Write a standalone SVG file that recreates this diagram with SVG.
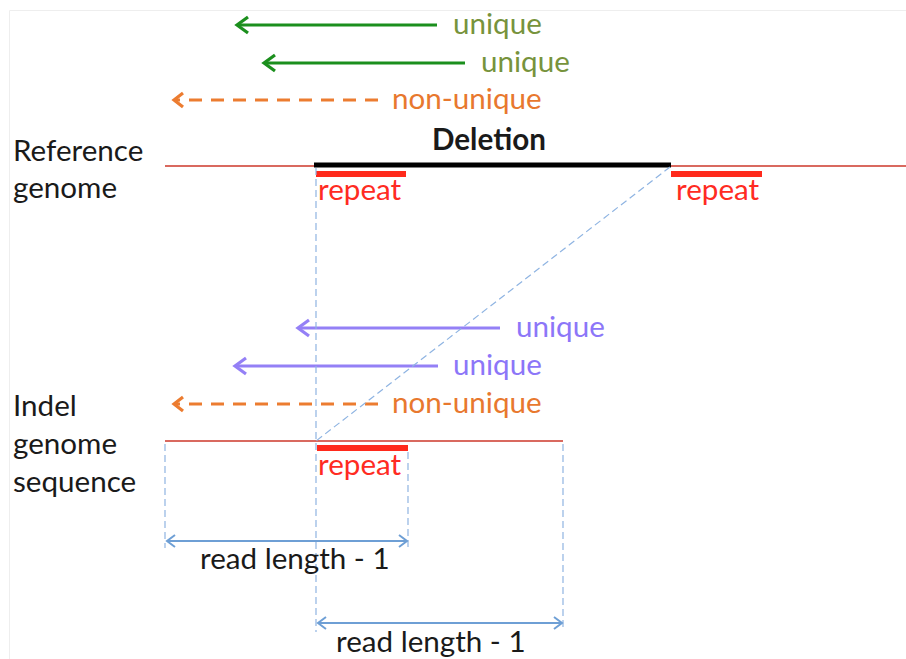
<svg xmlns="http://www.w3.org/2000/svg" width="906" height="659" viewBox="0 0 906 659">
  <defs>
    <style>
      text { font-family: Lato, "Open Sans", "Liberation Sans", sans-serif; font-size: 29.6px; }
      .lbl { fill: #1a1a1a; }
      .bold { font-weight: bold; }
      .green-txt { fill: #77933c; }
      .orange-txt { fill: #e8782e; }
      .purple-txt { fill: #8c76f8; }
      .red-txt { fill: #ff2b22; }
      .green { stroke: #1b8f1d; stroke-width: 3; fill: none; }
      .orange { stroke: #ec7c30; stroke-width: 3.2; fill: none; stroke-dasharray: 13 9; }
      .purple { stroke: #9480f6; stroke-width: 3; fill: none; }
      .seq { stroke: #d9695f; stroke-width: 2.2; fill: none; }
      .repeat { stroke: #ff2a1c; stroke-width: 6; fill: none; }
      .guide { stroke: #8fb4e2; stroke-width: 1.2; fill: none; stroke-dasharray: 7 4; }
      .dim { stroke: #6e9fd5; stroke-width: 2; fill: none; }
    </style>
    <marker id="head-green" markerUnits="userSpaceOnUse" viewBox="-14 -10 16 20" markerWidth="16" markerHeight="20" refX="0" refY="0" orient="auto" overflow="visible">
      <path d="M-11,-8 L0,0 L-11,8" fill="none" stroke="#1b8f1d" stroke-width="3.2"/>
    </marker>
    <marker id="head-orange" markerUnits="userSpaceOnUse" viewBox="-14 -10 16 20" markerWidth="16" markerHeight="20" refX="0" refY="0" orient="auto" overflow="visible">
      <path d="M-9,-7 L0,0 L-9,7" fill="none" stroke="#ec7c30" stroke-width="3.2"/>
    </marker>
    <marker id="head-purple" markerUnits="userSpaceOnUse" viewBox="-14 -10 16 20" markerWidth="16" markerHeight="20" refX="0" refY="0" orient="auto" overflow="visible">
      <path d="M-11,-8 L0,0 L-11,8" fill="none" stroke="#9480f6" stroke-width="3.2"/>
    </marker>
    <marker id="head-dim" markerUnits="userSpaceOnUse" viewBox="-10 -8 12 16" markerWidth="12" markerHeight="16" refX="0" refY="0" orient="auto-start-reverse" overflow="visible">
      <path d="M-8,-6 L0,0 L-8,6" fill="none" stroke="#6e9fd5" stroke-width="2"/>
    </marker>
  </defs>

  <rect width="906" height="659" fill="#ffffff"/>
  <!-- faint frame -->
  <path d="M9.5,659 V10.5 H906" fill="none" stroke="#eeeeee" stroke-width="1"/>

  <!-- row labels -->
  <g id="label-reference">
    <text class="lbl" x="13" y="161">Reference</text>
    <text class="lbl" x="13" y="198">genome</text>
  </g>
  <g id="label-indel">
    <text class="lbl" x="13" y="416">Indel</text>
    <text class="lbl" x="13" y="454">genome</text>
    <text class="lbl" x="13" y="492">sequence</text>
  </g>

  <!-- reference genome -->
  <g id="reference-genome">
    <line class="seq" x1="165" y1="166" x2="906" y2="166"/>
    <line x1="314" y1="165" x2="671" y2="165" stroke="#000" stroke-width="5"/>
    <text class="lbl bold" x="432" y="150">Deletion</text>
    <line class="repeat" x1="316" y1="174" x2="406" y2="174"/>
    <text class="red-txt" x="318" y="200">repeat</text>
    <line class="repeat" x1="671" y1="174" x2="762" y2="174"/>
    <text class="red-txt" x="676" y="200">repeat</text>
  </g>

  <!-- indel genome sequence -->
  <g id="indel-genome">
    <line class="seq" x1="165" y1="441" x2="563" y2="441"/>
    <line class="repeat" x1="317" y1="448" x2="408" y2="448"/>
    <text class="red-txt" x="318" y="475">repeat</text>
  </g>

  <!-- reads against the reference -->
  <g id="ref-read-1">
    <line class="green" x1="437" y1="25" x2="237" y2="25" marker-end="url(#head-green)"/>
    <text class="green-txt" x="453" y="34">unique</text>
  </g>
  <g id="ref-read-2">
    <line class="green" x1="465" y1="63" x2="264" y2="63" marker-end="url(#head-green)"/>
    <text class="green-txt" x="481" y="72">unique</text>
  </g>
  <g id="ref-read-3">
    <line class="orange" x1="378" y1="100" x2="174" y2="100" marker-end="url(#head-orange)"/>
    <text class="orange-txt" x="392" y="109">non-unique</text>
  </g>

  <!-- reads against the indel sequence -->
  <g id="indel-read-1">
    <line class="purple" x1="500" y1="328" x2="298" y2="328" marker-end="url(#head-purple)"/>
    <text class="purple-txt" x="516" y="337">unique</text>
  </g>
  <g id="indel-read-2">
    <line class="purple" x1="438" y1="366" x2="235" y2="366" marker-end="url(#head-purple)"/>
    <text class="purple-txt" x="453" y="375">unique</text>
  </g>
  <g id="indel-read-3">
    <line class="orange" x1="378" y1="404" x2="174" y2="404" marker-end="url(#head-orange)"/>
    <text class="orange-txt" x="392" y="413">non-unique</text>
  </g>

  <!-- guide lines and spans -->
  <g id="connectors">
    <line class="guide" x1="316" y1="168" x2="316" y2="632"/>
    <line class="guide" x1="670" y1="167" x2="316" y2="441"/>
    <line class="guide" x1="165" y1="444" x2="165" y2="548"/>
    <line class="guide" x1="408" y1="452" x2="408" y2="550"/>
    <line class="guide" x1="563" y1="444" x2="563" y2="630"/>
    <line class="dim" x1="167" y1="541" x2="407" y2="541" marker-start="url(#head-dim)" marker-end="url(#head-dim)"/>
    <line class="dim" x1="318" y1="623" x2="562" y2="623" marker-start="url(#head-dim)" marker-end="url(#head-dim)"/>
  </g>

  <g id="span-left">
    <text class="lbl" x="200" y="569">read length - 1</text>
  </g>
  <g id="span-right">
    <text class="lbl" x="336" y="652">read length - 1</text>
  </g>
</svg>
